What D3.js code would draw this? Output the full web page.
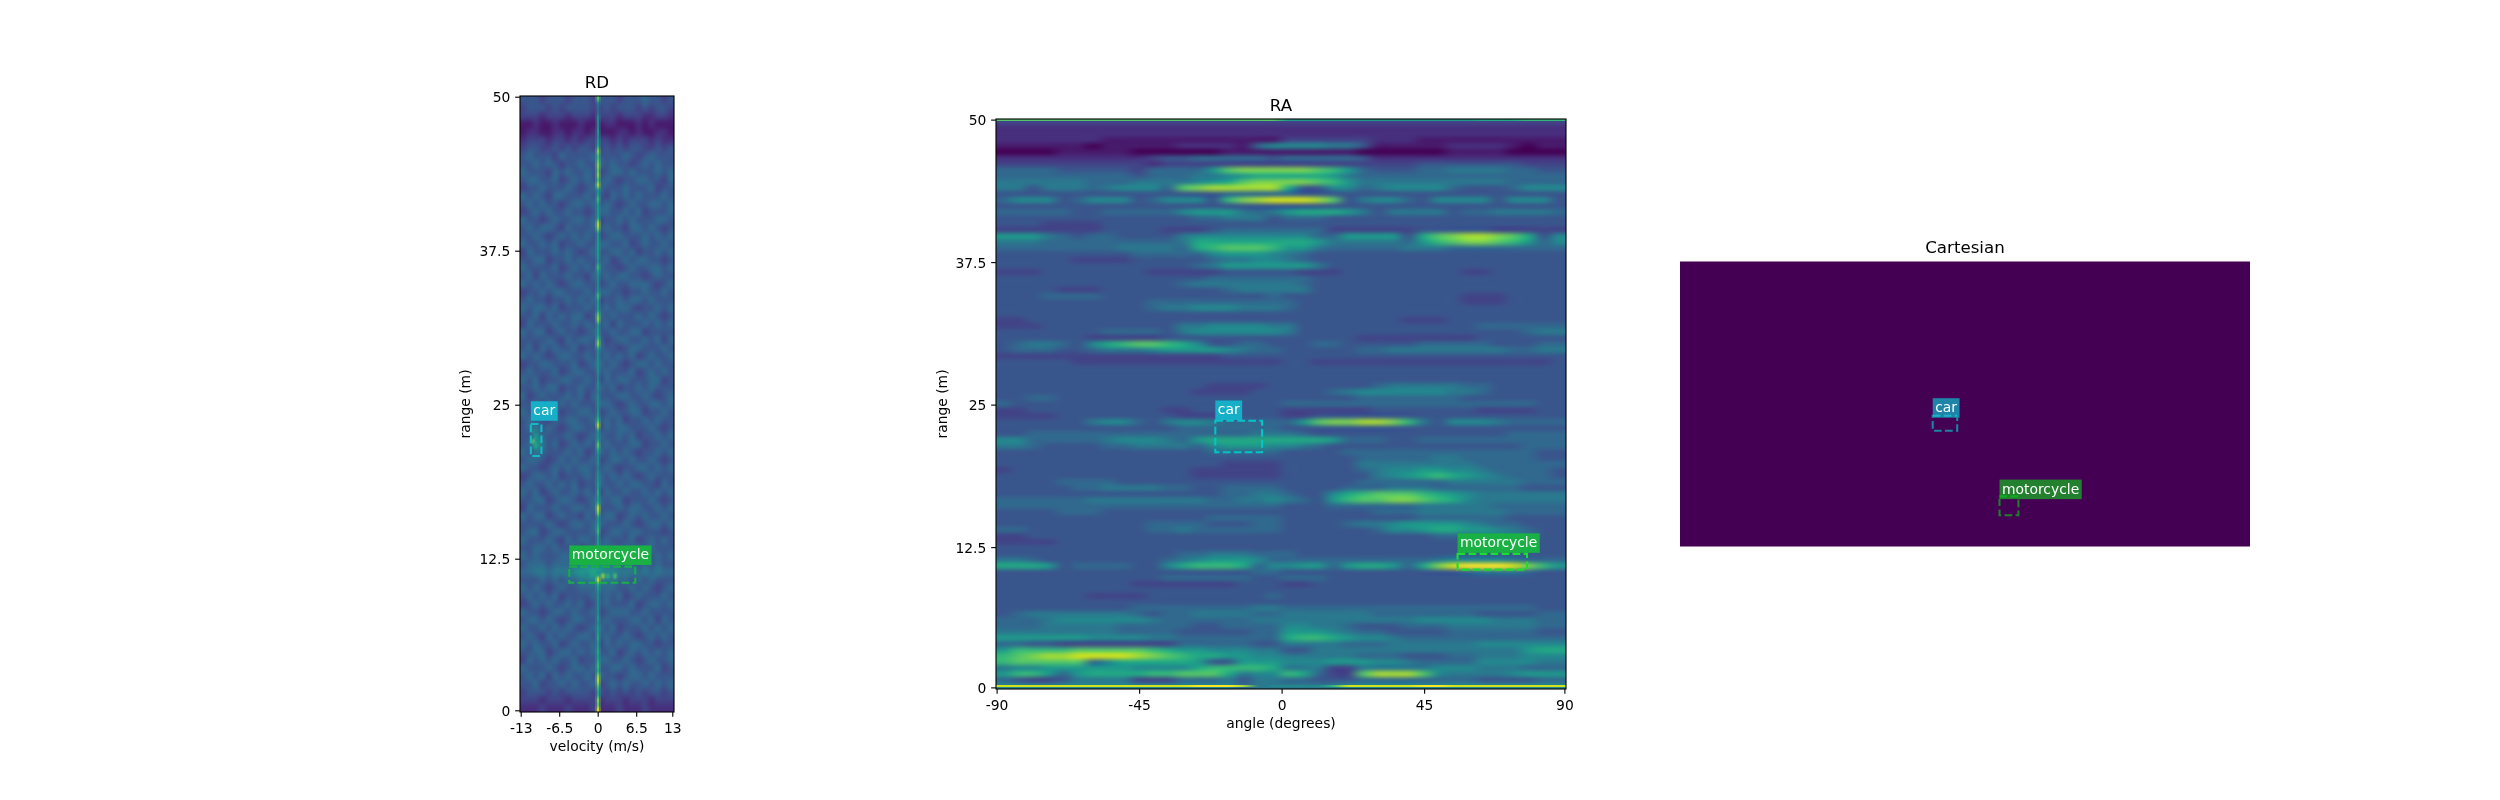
<!DOCTYPE html>
<html>
<head>
<meta charset="utf-8">
<script src="https://cdn.jsdelivr.net/npm/d3@7"></script>
<style>
  html, body { margin: 0; background: #fff; }
  #chart { position: relative; width: 2500px; height: 800px; overflow: hidden; }
  #chart canvas { position: absolute; }
  #chart svg { position: absolute; left: 0; top: 0; }
  text { font-family: "DejaVu Sans", sans-serif; }
</style>
</head>
<body>
<div id="chart"></div>
<script>
// Everything is read by eye off the reference. Heatmap cells are hex digits, 0 = darkest, f = brightest.

const targetNames = ["car", "motorcycle"];

// tick positions are cell indices of the 64x256 / 256x256 matrices
const rdTickIdx = [0, 16, 32, 48, 63];
const rdVelocityLabels = ["-13", "-6.5", "0", "6.5", "13"];
const rangeTickIdx = [0, 64, 128, 192, 255];
const rangeLabels = ["50", "37.5", "25", "12.5", "0"];
const raTickIdx = [0, 64, 128, 192, 255];
const raAngleLabels = ["-90", "-45", "0", "45", "90"];

// annotation boxes [x0, x1, y0, y1] in cell indices
const rdBoxes = [[4, 8.4, 135.8, 149.1], [20, 47.4, 195.1, 201.8]];
const raBoxes = [[98, 119, 135, 149.2], [206.8, 238, 194.8, 201.9]];
const cartBoxes = [[227, 249, 138.5, 152], [287, 304, 211, 228]];

const cartesianValue = 0;

// RA: 95 rows (range 50 -> 0) by 38 columns (angle -90 -> 90)
const raTopEdge = "bbbbbbbbbbbbbbbbbbb 8888888888888999aaa";
const raBottomEdge = "eeeeeeeeeeeeefffd67 777aeeeeeffeeeeeeee";
const raRows = [
"3333333333333333333 3333333333333333333",
"2222222222222222222 2222222222222222222",
"2222222222222222222 2222222222222222222",
"2222222111111111111 3333332221111111111",
"1111110111112222157 7776641111122221011",
"0000111110000001111 1111100000011110000",
"2222222222344555554 5555542222222222222",
"3333333333233333333 3333333334444444333",
"555544444355558bccc ccba854445566665544",
"5555555554555667899 9998655555555555555",
"6666665556666789bcc ccba866666666665555",
"664666567775bcddddd 9447756777754445777",
"4444444444444445555 5444444444444444444",
"577745777457774acde eedb467754777747774",
"4444444444444444444 4444444444444444444",
"5555544555557888656 8999864666645566665",
"4444444444444556664 5554444444444444444",
"4443333444444444444 4444444444444444444",
"3333333444433345555 5553333334444433333",
"8886545544446777777 7755888849bcddcb947",
"6665555555556999999 9986666658abccba857",
"55555555666659abbba 8865555566655555555",
"4444444445555578887 6544444444444444444",
"4444433334444456677 6544444444444444444",
"4444444444444568888 8864444444444444444",
"3334444444333334444 4333444444443344444",
"4444444444444455555 5544444444444444444",
"4444444444445666666 6544444444444444444",
"4444333444444445666 6644444444444444444",
"4445555444444444445 4444444444443334444",
"4444444444555555555 5444444444443334444",
"4444444444566777666 5444444444444444444",
"4444444444444444444 4444444444444444444",
"3344444444444444444 4444444433344444444",
"3334444444446677776 6444444444444555555",
"4444444555546777777 6444444444444444566",
"4444443333344444444 4444433333333444444",
"45665479abba9744554 4455444445555544455",
"4555445666788887655 4444455666666665566",
"3333333333333334444 4444444444444444444",
"4444433333333333333 4433333333333333334",
"4444444444444444444 4444444444444444444",
"4444444444444444444 4444444444444444444",
"4444444444444444444 4444444444444444444",
"4444444444444433334 4444445666665544444",
"4444444444444333344 4445677777766544444",
"4455444444444444444 4444455555554444444",
"5444444444444444444 5555555555555555544",
"3344444444433444444 3333334444444333344",
"3333444444443333444 3344444444444444444",
"4444446775467765555 58bccddca6477765555",
"4444444444445555555 4444444444444444444",
"4455555555555555566 6544444444444445555",
"7755555677765899999 9998555445555555555",
"6654444556666578887 7654444444444444555",
"4444444444444455555 4444555555555555544",
"4444444444444444444 4444455555665555544",
"4444444444444443333 4444466666666555555",
"3444444444444333333 4444456778877655554",
"4444444444444333333 4444446789a98765554",
"4444555544444444444 4444455555566666555",
"4444455666655445555 4444555666555555444",
"4444444444444445566 54479abbba987666666",
"5555556666666655667 6548abbccba97666666",
"5555555555555555555 4445555556666655555",
"4444555444444444444 4444445556666665555",
"4444444444444455555 4444444445555554444",
"4444444444555544455 4444566788887655444",
"5544444444556555555 4444445778998876544",
"3344444444444444444 4444444444555666544",
"3333444444444444444 4444444444444444444",
"4444444444444444444 4444444444444444444",
"4444444444445566655 5444444444444444444",
"6654444444456788875 5555555555677776555",
"9998455554479aaa957 7885899859cefffeca8",
"4444444444444444455 4444444444445666544",
"4444444444455555544 5554444444444444444",
"4444444443333333444 3344444444444444444",
"4444444444444444444 4444444444444444444",
"4444443333444444445 4444444444444444444",
"4444444444444444444 4444444444444444444",
"4444444445555555566 5555555555555555544",
"4566666665455666655 6666665555555444455",
"5556777777655555566 6666666667777766655",
"5556666655555445555 7766544455566666655",
"6666666655554444455 8887655444455555544",
"8888887777665555555 9aa9877655555555555",
"5544333333335555544 6666555666666777777",
"8aaaabbbbba98877766 4466666666666666899",
"abcddeeeedcba998877 6666655544455666777",
"abbbbb5799999844888 7778887765555777766",
"677888888777 79aaaa9 6663366666777666555",
"8aa8589999aabbb9677 a9533bdddb766667888",
"5433466663335556466 5544455555555444455",
"7777777777777777566 6666777777777777777"
];

// RD: 77 rows (range 50 -> 0) by 24 columns (velocity -13 -> 13), mottling only approximate
const rdRows = [
"444344434443444344454434","344434344443343444343443","333233323332333233322332","112112111211122111212111",
"122112212212111221211221","233323323233332323332322","344334343443343434433434","454443544445444454345444",
"445454344544545443454544","544435454454345545444545","455445345454454344554435","344544454345544454445344",
"545435544454435454544454","454544345545454345445545","345454454434554454534445","544345445545344545444554",
"454554354445454435545434","445434545454345544454545","544545344544554453454454","354445454345445545344545",
"445534454544453454554434","544445345454544345445545","453544454435454554434544","545454345544345445554345",
"344545544454554434454454","454434454545344545545444","545545344454454554344545","445354545534545444545434",
"354445445454453544454545","545534544345445445534444","444454354554534554454535","453545445344544345544454",
"545434554454454545345445","344554445345545434554544","454445345544454445345454","545344554454354554445534",
"445455344544545344545444","534544454535444554454345","445354545444554345445545","544545344554345445534454",
"454435455445454534454544","456454345544354554445434","447544454345544545344545","458645345454454445534454",
"546544454534545454344545","455434545445345545445434","544345454554454344554545","345545344454545454345444",
"454454545344544545544354","545345445454354454454545","445534554345545534445434","354445445545444545544545",
"545534544354455345454454","444454345545544454345545","455345544445345545544434","544454354554454445345454",
"445545445345555454545444","545444555456655454454545","455545556677766555454544","556656667889877666565655",
"444545455667666554545444","545434544555555445454345","454545344445454534544454","345454454534454445345545",
"544345545445345554454444","455454345544454445545354","544545454345545344454545","454354544554454454345454",
"545445345445354545544344","445534554545445345454545","354545445344554454345445","544454345545445545444534",
"454535454454544345545444","445344545445345454454545","344434344443434343434434","333233323333233323332333",
"222322232223222322232222"
];

// RD: the zero-velocity line, 128 samples from top to bottom
const rdZeroLine = "b655777878" + "9cabcbcad8" + "8a8889dc88" + "88887a8777" + "7a888bc888" + "ac87777767" +
  "7677778ad8" + "78b9777677" + "88989dc889" + "a888888888" + "e987777787" + "88988989a9" + "cdb99cbe";

// RD: small bright returns inside the two boxes, cell indices and hex value
const rdPeakX = [5, 6, 5, 6, 34, 36, 39, 29, 27];
const rdPeakY = [139, 141, 143, 145, 199, 199, 199, 199, 199];
const rdPeakVal = [7, 8, 11, 9, 13, 10, 11, 8, 7];

const viridis = d3.scaleSequential(d3.interpolateViridis).domain([0, 15]);

const chart = d3.select("#chart");
const svg = chart.append("svg").attr("width", 2500).attr("height", 800);

const hexVal = c => parseInt(c, 16);

const makeCanvas = (left, top, w, h) => {
    let node = chart.insert("canvas", "svg")
        .attr("width", w).attr("height", h)
        .style("left", left + "px").style("top", top + "px")
        .node();
    return node.getContext("2d");
};

// paints rows of digits onto a small canvas, then stretches it with smoothing, like imshow
const paintCells = (ctx, rows, dx, dy, dw, dh) => {
    let clean = rows.map(r => r.replace(/ /g, ""));
    let small = document.createElement("canvas");
    small.width = d3.max(clean, r => r.length);
    small.height = clean.length;
    let sctx = small.getContext("2d");
    clean.forEach((row, j) => {
        d3.range(small.width).forEach(i => {
            let c = row[Math.min(i, row.length - 1)];
            sctx.fillStyle = viridis(hexVal(c));
            sctx.fillRect(i, j, 1, 1);
        });
    });
    ctx.imageSmoothingEnabled = true;
    ctx.imageSmoothingQuality = "high";
    ctx.drawImage(small, dx, dy, dw, dh);
};

const drawFrame = (x, y, xTicks, xLabels, yTicks, yLabels, title, xTitle, yTitle, yTitleX) => {
    let [left, right] = x.range();
    let [top, bottom] = y.range();
    let cx = (left + right) / 2;
    let g = svg.append("g");

    let xAxis = d3.axisBottom(x).tickValues(xTicks).tickFormat((d, i) => xLabels[i])
        .tickSize(4.86).tickPadding(6.2).offset(0);
    let yAxis = d3.axisLeft(y).tickValues(yTicks).tickFormat((d, i) => yLabels[i])
        .tickSize(4.86).tickPadding(4.86).offset(0);

    let gx = g.append("g").attr("transform", `translate(0,${bottom})`).call(xAxis);
    let gy = g.append("g").attr("transform", `translate(${left},0)`).call(yAxis);
    [gx, gy].forEach(a => {
        a.select(".domain").remove();
        a.selectAll("line").attr("stroke", "#000").attr("stroke-width", 1.11);
        a.selectAll("text").attr("fill", "#000")
            .style("font-family", '"DejaVu Sans"').style("font-size", "13.89px");
    });
    gy.selectAll("text").attr("dy", "0.38em");

    g.append("rect").attr("x", left).attr("y", top)
        .attr("width", right - left).attr("height", bottom - top)
        .attr("fill", "none").attr("stroke", "#000").attr("stroke-width", 1.11);

    g.append("text").attr("x", cx).attr("y", bottom + 39).attr("text-anchor", "middle")
        .style("font-size", "13.89px").text(xTitle);
    g.append("text").attr("text-anchor", "middle")
        .attr("transform", `translate(${yTitleX},${(top + bottom) / 2}) rotate(-90)`)
        .style("font-size", "13.89px").text(yTitle);
    addTitle(cx, top, title);
};

const addTitle = (cx, top, title) => {
    svg.append("text").attr("x", cx).attr("y", top - 8.33).attr("text-anchor", "middle")
        .style("font-size", "16.67px").text(title);
};

// dashed target box with its name tag sitting on top
const drawTargets = (x, y, boxes, style) => {
    boxes.forEach((b, i) => {
        let x0 = x(b[0]), x1 = x(b[1]), y0 = y(b[2]), y1 = y(b[3]);
        let labelBottom = y0 + style.gap[i];
        let tag = svg.append("g");
        let bg = tag.append("rect").attr("fill", style.tag[i]);
        let txt = tag.append("text").attr("x", x0 + 2.5).attr("y", labelBottom - 5.6)
            .attr("fill", "#fff").style("font-size", "13.89px").text(targetNames[i]);
        let tw = txt.node().getComputedTextLength();
        bg.attr("x", x0).attr("y", labelBottom - 19.5).attr("width", tw + 5).attr("height", 19.5);

        svg.append("rect").attr("x", x0).attr("y", y0)
            .attr("width", x1 - x0).attr("height", y1 - y0)
            .attr("fill", "none").attr("stroke", style.box[i]).attr("stroke-width", 2.08)
            .attr("stroke-dasharray", "7.7,3.3");
        if (style.top) {
            svg.append("line").attr("x1", x0).attr("x2", x1).attr("y1", y0).attr("y2", y0)
                .attr("stroke", style.top[i]).attr("stroke-width", 2.08)
                .attr("stroke-dasharray", "7.7,3.3");
        }
    });
};

// ------- RD -------
const xRD = d3.scaleLinear().domain([-0.5, 63.5]).range([520, 674]);
const yRD = d3.scaleLinear().domain([-0.5, 255.5]).range([96, 712]);

const rdCtx = makeCanvas(520, 96, 154, 616);
paintCells(rdCtx, rdRows, 0, 0, 154, 616);

// zero line sits in the cell at index 32
const lineRows = rdZeroLine.split("");
rdCtx.globalAlpha = 0.35;
paintCells(rdCtx, lineRows, xRD(30.7) - 520, 0, xRD(33.3) - xRD(30.7), 616);
rdCtx.globalAlpha = 1;
paintCells(rdCtx, lineRows, xRD(31.55) - 520, 0, xRD(32.45) - xRD(31.55), 616);

rdCtx.filter = "blur(0.8px)";
rdPeakX.forEach((px, i) => {
    rdCtx.fillStyle = viridis(rdPeakVal[i]);
    rdCtx.fillRect(xRD(px - 0.6) - 520, yRD(rdPeakY[i] - 1) - 96, xRD(1.2) - xRD(0), yRD(2) - yRD(0));
});
rdCtx.filter = "none";

drawFrame(xRD, yRD, rdTickIdx, rdVelocityLabels, rangeTickIdx, rangeLabels,
    "RD", "velocity (m/s)", "range (m)", 470);
drawTargets(xRD, yRD, rdBoxes, {
    gap: [-3.2, -1.7],
    tag: ["#17aec8", "#19b044"],
    box: ["#14b8c8", "#18b045"]
});

// ------- RA -------
const xRA = d3.scaleLinear().domain([-0.5, 255.5]).range([996, 1566]);
const yRA = d3.scaleLinear().domain([-0.5, 255.5]).range([119, 689]);

const raCtx = makeCanvas(996, 119, 570, 570);
paintCells(raCtx, raRows, 0, 0, 570, 570);
paintCells(raCtx, [raTopEdge], 0, 0, 570, 2);
// the bright floor line at zero range is thinner than a row
raCtx.filter = "blur(0.6px)";
paintCells(raCtx, [raBottomEdge], 0, 565.5, 570, 2.5);
raCtx.filter = "none";

drawFrame(xRA, yRA, raTickIdx, raAngleLabels, rangeTickIdx, rangeLabels,
    "RA", "angle (degrees)", "range (m)", 947);
drawTargets(xRA, yRA, raBoxes, {
    gap: [-0.7, -1],
    tag: ["#17aec8", "#19b044"],
    box: ["#05c4c8", "#1edc30"]
});

// ------- Cartesian -------
const xCart = d3.scaleLinear().domain([0, 512]).range([1680, 2250]);
const yCart = d3.scaleLinear().domain([0, 256]).range([261.5, 546.5]);

svg.append("rect").attr("x", xCart(0)).attr("y", yCart(0))
    .attr("width", xCart(512) - xCart(0)).attr("height", yCart(256) - yCart(0))
    .attr("fill", viridis(cartesianValue));
addTitle(1965, 261.5, "Cartesian");
drawTargets(xCart, yCart, cartBoxes, {
    gap: [2, 2.7],
    tag: ["#1f85a8", "#23802e"],
    box: ["#1a85a5", "#1f7f2b"],
    top: ["#1cb4cc", "#0cb01c"]
});
</script>
</body>
</html>
